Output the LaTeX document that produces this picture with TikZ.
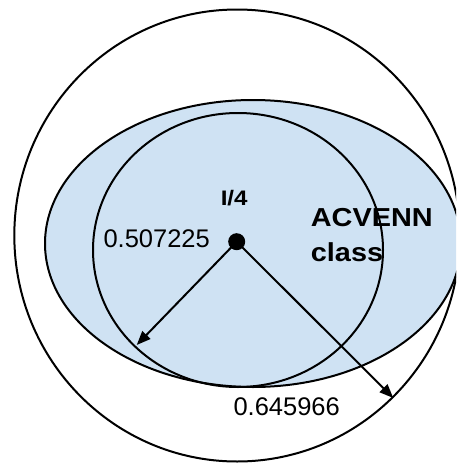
\documentclass[tikz,border=0pt]{standalone}
\usepackage{fontspec}
\setmainfont{Liberation Sans}
\usetikzlibrary{arrows.meta}
\definecolor{venn}{HTML}{CFE2F3}
\tikzset{
  outline/.style={draw=black, line width=2pt},
  radiusarrow/.style={draw=black, line width=2pt, -{Triangle[length=14pt,width=11pt]}, shorten <=2pt},
  numlabel/.style={inner sep=0pt, anchor=base west, font=\fontsize{25.5}{30}\selectfont},
  boldlabel/.style={inner sep=0pt, anchor=base west, font=\bfseries\fontsize{26}{30}\selectfont},
}
\begin{document}
\begin{tikzpicture}[x=1pt, y=-1pt]
  \useasboundingbox (0,0) rectangle (456,463);
  \clip (0,0) rectangle (456,463);
  \fill[white] (0,0) rectangle (456,463);
  % outer circle
  \draw[outline] (237.1,235.5) ellipse [x radius=222.8pt, y radius=226pt];
  % ACVENN class ellipse
  \draw[outline, fill=venn] (253,243.5) ellipse [x radius=208pt, y radius=143.5pt];
  % inner circle
  \draw[outline] (238,250) ellipse [x radius=145pt, y radius=137pt];
  % centre dot
  \node[circle, fill=black, inner sep=0pt, minimum size=17pt] (dot) at (236.7,241.7) {};
  \coordinate (tipA) at (136.7,345);
  \coordinate (tipB) at (393.3,398);
  \draw[radiusarrow] (dot.center) -- (tipA);
  \draw[radiusarrow] (dot.center) -- (tipB);
  % labels
  \node[inner sep=0pt, anchor=base, font=\bfseries\fontsize{21}{24}\selectfont] (quarter) at (234.2,205.7) {\scalebox{1.15}[1]{I/4}};
  \node[numlabel] (rinner) at (103.3,247.3) {0.507225};
  \node[numlabel] (router) at (233.3,415) {0.645966};
  \node[boldlabel] (acvenn) at (310.7,226.7) {\scalebox{1.11}[1]{ACVENN}};
  \node[boldlabel] (class) at (310.7,261.7) {\scalebox{1.11}[1]{class}};
\end{tikzpicture}
\end{document}
